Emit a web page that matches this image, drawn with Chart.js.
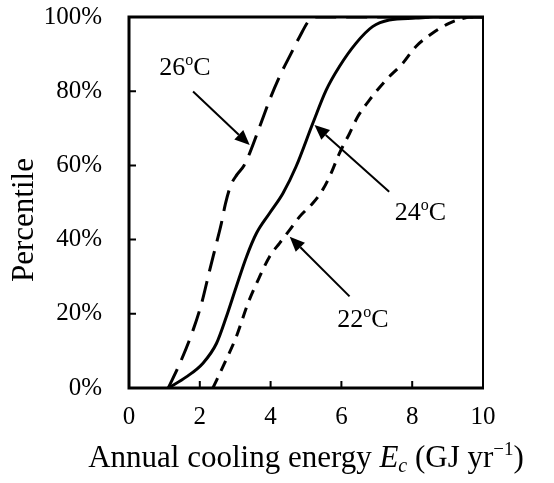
<!DOCTYPE html>
<html>
<head>
<meta charset="utf-8">
<script src="https://cdn.jsdelivr.net/npm/chart.js@4.4.1/dist/chart.umd.min.js"></script>
<style>
  html, body { margin: 0; padding: 0; background: #fff; }
  #wrap { width: 554px; height: 483px; }
</style>
</head>
<body>
<div id="wrap"><canvas id="cdf"></canvas></div>
<script>
// axis ticks
const xTicks = [0, 2, 4, 6, 8, 10];
const yTicks = [0, 20, 40, 60, 80, 100];

// cumulative distribution of annual cooling energy (GJ/yr) per set point
const energy26 = [1.11, 1.44, 1.81, 2.05, 2.28, 2.47, 2.61, 2.72, 2.87, 3.05, 3.25, 3.41, 3.69, 3.97, 4.25, 4.58, 4.82, 5.1, 5.3, 10];
const pct26    = [0, 6.7, 15.6, 22.8, 31.8, 39, 44.4, 49.5, 54.5, 57.5, 60, 63.3, 70.4, 77.6, 83.9, 90.2, 94.7, 99.2, 100, 100];

const energy24 = [1.11, 1.62, 2.09, 2.47, 2.75, 3.03, 3.32, 3.6, 3.97, 4.35, 4.72, 5.19, 5.57, 5.94, 6.41, 6.88, 7.35, 8.1, 8.6, 10];
const pct24    = [0, 3, 6.7, 12, 19.2, 27.3, 35.4, 41.7, 47.1, 52.5, 59.7, 71.3, 80.3, 86.6, 92.9, 97.4, 99.2, 99.7, 100, 100];

const energy22 = [2.37, 2.7, 3.03, 3.36, 3.69, 3.97, 4.25, 4.54, 4.82, 5.19, 5.47, 5.71, 5.94, 6.23, 6.46, 6.79, 7.26, 7.73, 8.1, 8.57, 9.04, 9.42, 9.7, 10];
const pct22    = [0, 6.7, 13.8, 22.8, 30, 35.4, 39, 42.6, 46.2, 49.8, 53.4, 57.9, 63.2, 68.6, 73.1, 77.6, 83, 87.5, 92, 95.6, 98.3, 99.6, 100, 100];

// callout labels (centre x, baseline y) and arrows, in data units
const callouts = [
  { temp: '26', tx: 1.58, ty: 84.4, from: [1.81, 79.9], to: [3.41, 65.5] },
  { temp: '24', tx: 8.23, ty: 45.3, from: [7.35, 52.9], to: [5.24, 70.9] },
  { temp: '22', tx: 6.61, ty: 16.4, from: [6.23, 24.7], to: [4.54, 40.8] }
];

const SERIF = '"Liberation Serif", "Times New Roman", serif';

const pairs = (xs, ys) => xs.map((x, i) => ({ x: x, y: ys[i] }));

function drawArrow(ctx, x1, y1, x2, y2) {
  const ang = Math.atan2(y2 - y1, x2 - x1);
  const headLen = 15, headW = 6.5;
  const bx = x2 - headLen * Math.cos(ang);
  const by = y2 - headLen * Math.sin(ang);
  ctx.beginPath();
  ctx.moveTo(x1, y1);
  ctx.lineTo(bx, by);
  ctx.lineWidth = 2;
  ctx.stroke();
  ctx.beginPath();
  ctx.moveTo(x2, y2);
  ctx.lineTo(bx + headW * Math.sin(ang), by - headW * Math.cos(ang));
  ctx.lineTo(bx - headW * Math.sin(ang), by + headW * Math.cos(ang));
  ctx.closePath();
  ctx.fill();
}

// "26" + raised small "o" + "C"
function drawTempLabel(ctx, temp, cx, base) {
  const big = '26px ' + SERIF, small = '16px ' + SERIF;
  ctx.font = big;
  const wNum = ctx.measureText(temp).width;
  const wC = ctx.measureText('C').width;
  ctx.font = small;
  const wO = ctx.measureText('o').width;
  let x = cx - (wNum + wO + wC) / 2;
  ctx.textAlign = 'left';
  ctx.textBaseline = 'alphabetic';
  ctx.font = big;
  ctx.fillText(temp, x, base);
  x += wNum;
  ctx.font = small;
  ctx.fillText('o', x, base - 10);
  x += wO;
  ctx.font = big;
  ctx.fillText('C', x, base);
}

// frame, inward tick marks, callouts and both axis titles
const decorations = {
  id: 'decorations',
  afterDraw(chart) {
    const { ctx, chartArea: a, scales } = chart;
    const xs = scales.x, ys = scales.y;
    ctx.save();
    ctx.strokeStyle = '#000';
    ctx.fillStyle = '#000';
    ctx.lineCap = 'butt';

    ctx.lineWidth = 2;
    ctx.beginPath();
    ctx.moveTo(a.right, a.top);
    ctx.lineTo(a.right, a.bottom);
    ctx.stroke();
    ctx.lineWidth = 3;
    ctx.beginPath();
    ctx.moveTo(a.left, a.top);
    ctx.lineTo(a.right + 1, a.top);
    ctx.moveTo(a.left, a.top - 1.5);
    ctx.lineTo(a.left, a.bottom);
    ctx.lineTo(a.right + 1, a.bottom);
    ctx.stroke();

    ctx.lineWidth = 2;
    ctx.beginPath();
    xTicks.forEach(v => {
      const px = xs.getPixelForValue(v);
      ctx.moveTo(px, a.bottom);
      ctx.lineTo(px, a.bottom - 7);
    });
    yTicks.forEach(v => {
      const py = ys.getPixelForValue(v);
      ctx.moveTo(a.left, py);
      ctx.lineTo(a.left + 7, py);
    });
    ctx.stroke();

    callouts.forEach(c => {
      drawArrow(ctx,
        xs.getPixelForValue(c.from[0]), ys.getPixelForValue(c.from[1]),
        xs.getPixelForValue(c.to[0]), ys.getPixelForValue(c.to[1]));
      drawTempLabel(ctx, c.temp, xs.getPixelForValue(c.tx), ys.getPixelForValue(c.ty));
    });

    // y title
    ctx.save();
    ctx.translate(25, 220);
    ctx.rotate(-Math.PI / 2);
    ctx.font = '31px ' + SERIF;
    ctx.textAlign = 'center';
    ctx.textBaseline = 'middle';
    ctx.fillText('Percentile', 0, 0);
    ctx.restore();

    // x title: Annual cooling energy E_c (GJ yr^-1), centred under the plot
    const parts = [
      { t: 'Annual cooling energy ', f: '31px ' + SERIF, dy: 0 },
      { t: 'E', f: 'italic 31px ' + SERIF, dy: 0 },
      { t: 'c', f: 'italic 20px ' + SERIF, dy: 5 },
      { t: ' (GJ yr', f: '31px ' + SERIF, dy: 0 },
      { t: '\u22121', f: '19px ' + SERIF, dy: -12 },
      { t: ')', f: '31px ' + SERIF, dy: 0 }
    ];
    let total = 0;
    parts.forEach(p => { ctx.font = p.f; p.w = ctx.measureText(p.t).width; total += p.w; });
    let x = (a.left + a.right) / 2 - total / 2;
    ctx.textAlign = 'left';
    ctx.textBaseline = 'alphabetic';
    parts.forEach(p => {
      ctx.font = p.f;
      ctx.fillText(p.t, x, 467 + p.dy);
      x += p.w;
    });
    ctx.restore();
  }
};

const lineStyle = { borderColor: '#000', borderWidth: 3, pointRadius: 0, fill: false, cubicInterpolationMode: 'monotone' };

new Chart(document.getElementById('cdf'), {
  type: 'line',
  data: {
    datasets: [
      Object.assign({ label: '26°C', data: pairs(energy26, pct26), borderDash: [21, 10] }, lineStyle),
      Object.assign({ label: '24°C', data: pairs(energy24, pct24) }, lineStyle),
      Object.assign({ label: '22°C', data: pairs(energy22, pct22), borderDash: [11, 8] }, lineStyle)
    ]
  },
  options: {
    responsive: true,
    maintainAspectRatio: false,
    animation: false,
    layout: { padding: { left: 0, right: 71, top: 17, bottom: 0 } },
    plugins: { legend: { display: false }, tooltip: { enabled: false } },
    scales: {
      x: {
        type: 'linear',
        min: 0,
        max: 10,
        afterFit(scale) {
          scale.height = 95;
          scale.paddingLeft = 0;
          scale.paddingRight = 0;
        },
        afterBuildTicks(scale) { scale.ticks = xTicks.map(v => ({ value: v })); },
        grid: { display: false, drawTicks: false },
        border: { display: false },
        ticks: { color: '#000', padding: 14, maxRotation: 0, font: { family: SERIF, size: 25 } }
      },
      y: {
        min: 0,
        max: 100,
        afterFit(scale) {
          scale.width = 129;
          scale.paddingTop = 0;
          scale.paddingBottom = 0;
        },
        afterBuildTicks(scale) { scale.ticks = yTicks.map(v => ({ value: v })); },
        grid: { display: false, drawTicks: false },
        border: { display: false },
        ticks: { color: '#000', padding: 27, font: { family: SERIF, size: 25 }, callback: v => v + '%' }
      }
    }
  },
  plugins: [decorations]
});
</script>
</body>
</html>
